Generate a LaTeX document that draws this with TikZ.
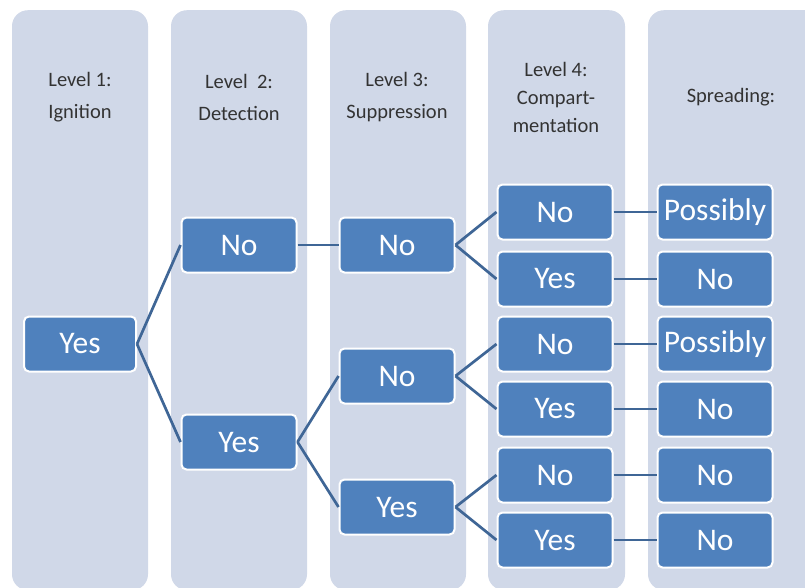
\documentclass[tikz,border=0pt]{standalone}
\usepackage{fontspec}
\setmainfont{Carlito}
\definecolor{colfill}{HTML}{D0D8E8}
\definecolor{boxfill}{HTML}{4F81BD}
\definecolor{linkcol}{HTML}{3F6696}
\definecolor{headtext}{HTML}{333333}
\begin{document}
\begin{tikzpicture}[x=1pt,y=-1pt,
  column/.style={fill=colfill, draw=none, rounded corners=16pt, minimum width=136pt, minimum height=580pt, anchor=north, inner sep=0pt},
  header/.style={text=headtext, align=center, font=\fontsize{20.5}{32}\selectfont, anchor=center},
  choice/.style={fill=boxfill, draw=white, line width=2pt, rounded corners=5pt, minimum width=115pt, minimum height=55pt, text=white, inner sep=0pt, font=\fontsize{31.5}{36}\selectfont},
  link/.style={draw=linkcol, line width=2.7pt}]
\useasboundingbox (0,0) rectangle (805,587);
\clip (0,0) rectangle (805,587);
\fill[white] (0,0) rectangle (805,587);

% background columns, one per level
\node[column] (c1) at (80,10) {};
\node[column] (c2) at (239,10) {};
\node[column] (c3) at (398,10) {};
\node[column, minimum width=137pt] (c4) at (556.5,10) {};
\node[column, minimum width=180pt] (c5) at (738,10) {};

% column headings
\node[header] (h1) at (80,97) {Level 1:\\Ignition};
\node[header] (h2) at (239,97) {Level\ \ 2:\\Detection};
\node[header] (h3) at (397,97) {Level 3:\\Suppression};
\node[header, font=\fontsize{20.5}{28}\selectfont] (h4) at (556,97) {Level 4:\\Compart-\\mentation};
\node[header] (h5) at (731,97) {Spreading:};

% decision boxes
\node[choice, minimum width=112pt] (ign) at (80,344) {Yes};

\node[choice] (detno) at (239,245) {No};
\node[choice] (detyes) at (239,442) {Yes};

\node[choice] (supa) at (397,245) {No};
\node[choice] (supb) at (397,376) {No};
\node[choice] (supc) at (397,507) {Yes};

\node[choice] (cmp1) at (555,212) {No};
\node[choice] (cmp2) at (555,279) {Yes};
\node[choice] (cmp3) at (555,344) {No};
\node[choice] (cmp4) at (555,409) {Yes};
\node[choice] (cmp5) at (555,475) {No};
\node[choice] (cmp6) at (555,540) {Yes};

\node[choice] (spr1) at (715,212) {Possibly};
\node[choice] (spr2) at (715,279) {No};
\node[choice] (spr3) at (715,344) {Possibly};
\node[choice] (spr4) at (715,409) {No};
\node[choice] (spr5) at (715,475) {No};
\node[choice] (spr6) at (715,540) {No};

% branches of the tree
\draw[link] (ign.east) -- (detno.west);
\draw[link] (ign.east) -- (detyes.west);
\draw[link] (detno.east) -- (supa.west);
\draw[link] (detyes.east) -- (supb.west);
\draw[link] (detyes.east) -- (supc.west);
\draw[link] (supa.east) -- (cmp1.west);
\draw[link] (supa.east) -- (cmp2.west);
\draw[link] (supb.east) -- (cmp3.west);
\draw[link] (supb.east) -- (cmp4.west);
\draw[link] (supc.east) -- (cmp5.west);
\draw[link] (supc.east) -- (cmp6.west);
\foreach \i in {1,...,6} {
  \draw[link] (cmp\i.east) -- (spr\i.west);
}
\end{tikzpicture}
\end{document}
